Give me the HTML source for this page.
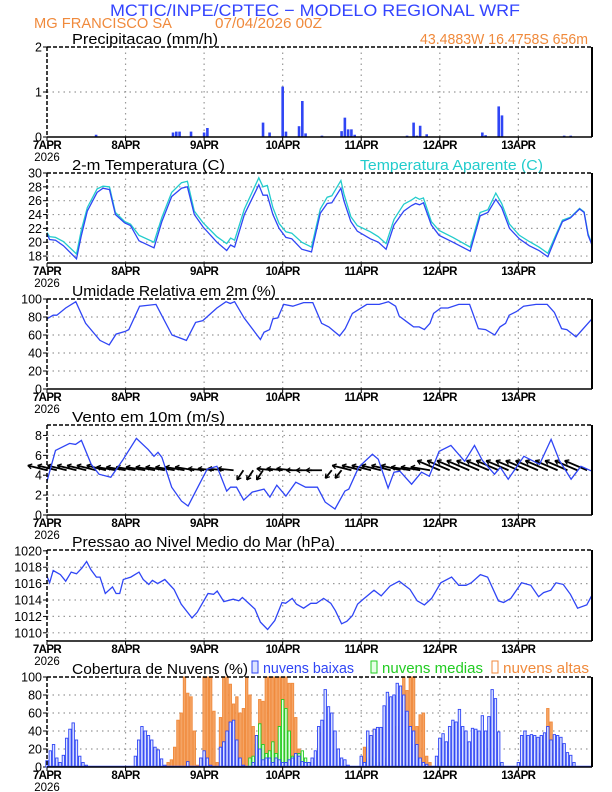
<!DOCTYPE html>
<html><head><meta charset="utf-8"><style>
html,body{margin:0;padding:0;background:#fff;}
svg{display:block;font-family:"Liberation Sans",sans-serif;}
</style></head><body>
<svg id="chart" width="612" height="792" viewBox="0 0 612 792" xmlns="http://www.w3.org/2000/svg">
<text x="110" y="16" font-size="17" fill="#3344ff" textLength="410" lengthAdjust="spacingAndGlyphs">MCTIC/INPE/CPTEC − MODELO REGIONAL WRF</text>
<text x="34" y="28" font-size="15" fill="#f08a3c" textLength="138" lengthAdjust="spacingAndGlyphs">MG FRANCISCO SA</text>
<text x="215" y="28" font-size="15" fill="#f08a3c" textLength="107" lengthAdjust="spacingAndGlyphs">07/04/2026 00Z</text>
<text x="420" y="44" font-size="15" fill="#f08a3c" textLength="168" lengthAdjust="spacingAndGlyphs">43.4883W 16.4758S 656m</text>
<g id="layer"></g>
</svg>
<script>
// ---------- data ----------
const dayLabels=["7APR","8APR","9APR","10APR","11APR","12APR","13APR"];
const precipHours=[15,38.5,39.5,40.5,44,48,49,66,68,72,73,77,78,79,84,90,91,92,93,94,110,112,113,114,116,133,134,138,139,158,160];
const precipValues=[0.05,0.1,0.12,0.12,0.12,0.1,0.2,0.32,0.1,1.12,0.12,0.24,0.8,0.08,0.03,0.13,0.43,0.17,0.17,0.05,0.03,0.32,0.03,0.25,0.06,0.1,0.04,0.68,0.48,0.03,0.03];
const tempHours=[0,0.8,2.6,5,9,10.5,12.3,15.3,17.1,19.1,20.9,23.7,25.5,28.1,32.7,35.1,38.1,41.1,42.9,45,47.7,51.9,54.9,56.1,57.3,60.3,64.7,66,67.3,69,70.9,73,74.8,77.8,80.8,83.5,85.6,87,89.8,90.7,92.8,94.8,98.8,101.2,103.6,106,109,111.4,112.6,113.8,115,117.4,119.8,124,129.3,132.3,134.7,137.1,138.9,141.3,144.3,147.3,150.3,153,155.7,157.5,159.9,162.7,164.1,165.3,166.5];
const tempValues=[21.2,20.4,20.3,19.5,17.6,21,24.5,27.2,27.8,27.6,24,22.8,22.4,20.2,19.2,23,26.6,27.8,28,24,22.2,20,18.8,19.6,19.3,24,28.3,26.8,26.8,24,22,20.7,20.5,19,18.6,24.2,25.6,25.7,27.8,26,23,21.6,20.5,20,19,22.5,24.5,25.3,25.6,25.4,25.7,22.5,21,20,18.7,23.8,24.3,26.2,25,22,20.5,19.5,18.8,17.9,21,23,23.5,24.8,24.3,21,19.6];
const apparentValues=[21.4,20.8,20.7,20.1,18.3,21.8,25,27.7,28.1,28,24.3,23,22.6,21,20,23.6,27.2,28.6,28.8,24.5,22.8,20.8,19.8,20.6,20.3,24.8,29.3,28,28.2,25,22.7,21.5,21.3,20,19.3,24.8,26.5,26.7,28.9,27,23.7,22.4,21.5,20.8,19.8,23.3,25.5,26.1,26.5,26.2,26.4,23,21.7,20.7,19.3,24.3,24.7,27.1,25.6,22.6,21,20.1,19.3,18.4,21.3,23.2,23.6,24.9,24.4,21.2,19.7];
const rhHours=[0,1.9,3,5.7,8.8,11.8,16.2,19,21.1,23.9,25,28.3,33.3,38.2,42.6,45.4,47.6,51.9,54.7,56,57.3,60.2,65.2,66.3,68,69,70.5,72.3,75.1,78.4,81.2,83.9,86.1,89.4,91.1,93.3,97.7,101.5,104.3,106.5,107.6,110.9,112,113.7,115.3,117,118.1,120.3,122.5,125.8,129.1,131.8,134,136.8,138.4,140.1,141.2,143.4,145.6,149.4,152.8,155,157.2,158.8,161.6,166.5];
const rhValues=[78,82,82,90,97,73,54,49,61,64,66,92,94,60,54,74,76,90,97,95,97,79,55,63,66,78,79,94,92,96,96,73,69,59,67,84,94,94,97,92,81,72,69,69,66,73,84,90,90,94,94,67,66,60,69,73,82,86,92,94,94,85,67,66,58,78];
const windHours=[0,2.6,6.9,8.7,10.5,13.5,15.9,19.5,23.1,27.3,30.9,32.7,33.9,35.1,38.1,41.1,43.1,45.3,48.9,51.9,54.9,56.1,57.9,60.1,62.7,66.3,68.1,70.2,73,76,79,82.6,85,88,91,92.2,95.2,99.4,101.2,104.2,106,107.8,111.4,114.4,116.8,119.8,123.4,127.6,130.6,133,136.7,138.5,140.9,145.7,150.5,154,156.5,160.1,163.1,166.5];
const windSpeed=[3.4,6.5,7.2,7.1,7.5,5.1,4.1,3.8,5.5,7.7,6.6,5.9,6.3,5.8,2.8,1.4,0.9,2.3,4.6,4.9,2.4,2.8,2.8,1.5,2.3,2.6,1.8,3,1.9,3.3,2.8,2.8,1.3,0.6,2.4,2.6,4.8,6.1,5.6,2.7,4.3,4.4,3.1,4.3,3.9,6.4,7,5.4,7,5.5,4.1,4.8,3.6,5.9,5.1,7.6,5.5,3.6,4.9,4.4];
const vecHours=[0,3,6,9,12,15,18,21,24,27,30,33,36,39,42,45,48,51,54,57,60,63,66,69,72,75,78,81,84,87,90,93,96,99,102,105,108,111,114,117,120,123,126,129,132,135,138,141,144,147,150,153,156,159,162,165];
const windU=[-6,-6,-6,-6,-6,-6,-6,-6,-6,-6,-6,-6,-6,-6,-6,-6,-5,-5,-5,-5,-2,-2,-2,-5,-5,-5,-5,-5,-5,-2,-2,-6,-6,-6,-6,-6,-6,-6,-6,-6,-7,-7,-7,-7,-7,-7,-7,-7,-7,-7,-7,-7,-7,-7,-7,-7];
const windV=[1.5,1.5,1.5,1.5,1.5,1.5,1.5,1,1,1,1,1,1,1,1,1,0.5,0.5,0.5,0.5,-3,-3,-3,0.5,0.5,0.5,0,0,0,-2.5,-2.5,1.5,1.5,1.5,1.5,1.5,1.5,1,1,1,3,3,3,3,3,3,3,3,3,3,3,3,3,3,3,3];
const presHours=[0,0.8,1.9,4.1,5.7,7.4,9,10.7,12.1,13.4,15.1,16.2,17.8,20,21.1,22.2,23.3,25.6,28.1,29.4,31.1,32.2,33.8,36,38.8,41,44.3,45.9,49.2,50.9,52,54,56.9,58.6,59.7,61.9,63.5,65.2,67.4,69.6,71.8,72.9,74.9,76.2,78.4,80.6,82.3,84.5,86.7,88.1,90,91.6,93.3,94.9,96.6,99.9,102.1,104.8,107.6,110.9,113.1,115.3,117.5,120.3,123.6,125.8,128,129.6,132.4,134.6,137.9,139.5,141.7,145,147.8,150.2,151.7,153.9,155.5,157.7,159.9,162.1,164.9,166.5];
const presValues=[1016.9,1016.1,1017.6,1017.1,1016.3,1017.4,1017.2,1017.9,1018.7,1017.7,1016.8,1016.8,1014.8,1015.6,1014.8,1014.8,1016.5,1016.8,1017.4,1016.5,1015.9,1016.4,1016,1016.5,1015.3,1013.5,1011.8,1012.5,1014.8,1014.7,1015.1,1013.8,1014.1,1013.9,1014.3,1013.5,1012.9,1011.3,1010.4,1011.5,1013.7,1013.6,1014.2,1013.5,1013,1013.6,1013.6,1014.2,1013.6,1012.7,1011.1,1011.4,1012.1,1013.5,1014.1,1015.2,1014.5,1015.7,1016.3,1015.3,1013.9,1013.4,1014.2,1016.1,1016.8,1015.8,1015.8,1016.1,1017.1,1016.8,1013.9,1013.7,1014.2,1016.1,1015.8,1014.4,1014.9,1015.2,1016.1,1015.9,1014.7,1013,1013.4,1014.6];
const cloudLow=[7,18,25,10,5,13,32,42,49,30,12,5,2,0,
0,0,0,0,0,0,0,0,0,0,0,0,0,
12,30,45,40,35,30,22,19,9,2,
0,0,0,0,0,0,
6,0,0,0,10,18,10,2,0,0,
22,28,40,50,52,30,10,2,0,0,
5,35,20,8,10,10,5,10,8,5,
5,8,10,15,12,6,5,5,10,18,
45,52,86,67,60,40,20,10,8,2,
0,0,0,12,5,40,35,42,44,44,
68,83,78,80,93,90,80,62,45,40,
25,10,5,3,0,0,12,32,37,28,
45,52,50,64,45,40,28,43,42,40,
57,40,56,86,76,39,5,0,0,0,
0,5,35,40,35,36,35,33,35,38,
45,30,36,35,33,26,16,13,5,0,
0,0,0,0];
const cloudMid=[0,0,0,0,0,0,0,0,0,0,0,0,0,0,0,0,0,0,0,0,0,0,0,0,0,0,0,0,0,0,0,0,0,0,0,0,0,0,0,0,0,0,0,0,0,0,0,0,0,0,0,0,0,0,0,0,0,0,0,0,0,0,
10,12,25,48,25,15,18,28,15,45,
75,65,40,12,10,15,18,10,5,0,
0,0,0,0,0,0,0,0,0,0,0,0,0,0,0,0,
8,12,10,5,
0,0,0,0,0,0,0,
3,5,
0,0,0,0,0,0,0,0,0,0,0,0,0,0,0,0,0,0,0,0,0,0,0,0,0,0,
8,5,
0,0,0,0,0,0,0,0,0,0,0,0,0,0,0,0,0,0,0,0,0,0,0,0,0,0,0,0];
const cloudHigh=[0,0,0,0,0,0,0,0,0,0,0,0,0,0,0,0,0,0,0,0,0,0,0,0,0,0,0,0,0,0,0,0,0,0,0,0,0,
5,8,22,52,60,100,82,78,40,2,
10,100,100,100,62,5,
55,100,100,92,70,78,60,65,100,80,
45,35,75,73,100,100,100,100,100,100,
100,93,93,55,20,5,0,0,0,5,
38,5,0,0,0,0,0,0,0,0,0,0,0,0,
22,10,5,42,5,5,0,10,20,35,
45,55,100,85,100,100,45,58,60,12,
5,0,0,0,0,0,0,0,5,0,
0,0,0,0,0,0,0,0,0,0,0,0,0,0,0,0,0,0,0,0,0,0,0,0,
15,25,65,50,15,5,
0,0,0,0,0,0,0,0,0,0];

// ---------- layout ----------
const NS="http://www.w3.org/2000/svg";
const layer=document.getElementById('layer');
const X0=47,X1=592,HMAX=166.5;
function X(h){return X0+h*(X1-X0)/HMAX;}
function mk(tag,attrs,parent){const e=document.createElementNS(NS,tag);for(const k in attrs)e.setAttribute(k,attrs[k]);(parent||layer).appendChild(e);return e;}
function scaleY(p){return v=>p.bot-(v-p.min)*(p.bot-p.top)/(p.max-p.min);}
const BLUE="#2f45f5",CYAN="#22cccc",ORANGE="#f08a3c",GREEN="#22cc22";

function panel(p,name,title,titleW,ticks,tickLabels){
  const g=mk('g',{});
  
  
  const Y=scaleY(p);
  for(let d=1;d<7;d++){const l=mk('line',{x1:X(d*24),x2:X(d*24),y1:p.top,y2:p.bot,stroke:'#999','stroke-dasharray':'1.5,4','stroke-width':1.2},g);
    }
  ticks.forEach((t,i)=>{
    const y=Y(t);
    if(y>p.top+1&&y<p.bot-1){const l=mk('line',{x1:X0,x2:X1,y1:y,y2:y,stroke:'#999','stroke-dasharray':'1.5,4','stroke-width':1.2},g);
      }
    mk('line',{x1:X0-4,x2:X0,y1:y,y2:y,stroke:'#000'},g);
    const tx=mk('text',{x:X0-5,y:y+4.5,'text-anchor':'end','font-size':12.5,fill:'#000'},g);
    tx.textContent=tickLabels[i];
    
  });
  dayLabels.forEach((d,i)=>{
    mk('line',{x1:X(i*24),x2:X(i*24),y1:p.bot,y2:p.bot+4,stroke:'#000'},g);
    const tx=mk('text',{x:X(i*24),y:p.bot+12,'text-anchor':'middle','font-size':11.5,'font-weight':'bold','letter-spacing':'-0.6',fill:'#000'},g);
    tx.textContent=d;
    
  });
  const yr=mk('text',{x:X0,y:p.bot+24,'text-anchor':'middle','font-size':11.5,fill:'#000'},g);
  yr.textContent="2026";
  
  const tt=mk('text',{x:72,y:p.top-3,'font-size':15,fill:'#000',textLength:titleW,lengthAdjust:'spacingAndGlyphs'},g);
  tt.textContent=title;
  
  p.g=g;p.Y=Y;
  return p;
}
function frame(p){
  mk('line',{x1:X0,x2:X1,y1:p.top,y2:p.top,stroke:'#000','stroke-width':1.5,'stroke-dasharray':'4,2'},p.g);
  mk('line',{x1:X0,x2:X0,y1:p.top,y2:p.bot,stroke:'#000','stroke-width':1.5,'stroke-dasharray':'4,2'},p.g);
  mk('line',{x1:X1,x2:X1,y1:p.top,y2:p.bot,stroke:'#000','stroke-width':2},p.g);
  mk('line',{x1:X0,x2:X1,y1:p.bot,y2:p.bot,stroke:'#000','stroke-width':1.5},p.g);
}
function line(p,hours,vals,color,name){
  const pts=hours.map((h,i)=>X(h).toFixed(1)+','+p.Y(vals[i]).toFixed(1)).join(' ');
  const l=mk('polyline',{points:pts,fill:'none',stroke:color,'stroke-width':1.3},p.g);
  
  
}

const P1=panel({top:47,bot:137,min:0,max:2},'precipitation-panel','Precipitacao (mm/h)',146,[0,1,2],["0","1","2"]);
precipHours.forEach((h,i)=>{
  const y=P1.Y(precipValues[i]);
  const b=mk('rect',{x:X(h)-1.3,y:y,width:2.6,height:P1.bot-y,fill:BLUE},P1.g);
  
  
});
frame(P1);

const P2=panel({top:173,bot:263,min:17,max:30},'temperature-panel','2-m Temperatura (C)',153,[18,20,22,24,26,28,30],["18","20","22","24","26","28","30"]);
const lt=mk('text',{x:360,y:170,'font-size':15,fill:CYAN,textLength:183,lengthAdjust:'spacingAndGlyphs'},P2.g);
lt.textContent="Temperatura Aparente (C)";

line(P2,tempHours,apparentValues,CYAN,'apparent-temperature-line');
line(P2,tempHours,tempValues,BLUE,'temperature-line');
frame(P2);

const P3=panel({top:299,bot:389,min:0,max:100},'humidity-panel','Umidade Relativa em 2m (%)',204,[0,20,40,60,80,100],["0","20","40","60","80","100"]);
line(P3,rhHours,rhValues,BLUE,'humidity-line');
frame(P3);

const P4=panel({top:425,bot:515,min:0,max:9.05},'wind-panel','Vento em 10m (m/s)',153,[0,2,4,6,8],["0","2","4","6","8"]);
const baseY=P4.Y(4.5);
vecHours.forEach((h,i)=>{
  const x=X(h),dx=windU[i]*3.2,dy=-windV[i]*3.2;
  const g=mk('g',{},P4.g);
  
  
  mk('line',{x1:x,y1:baseY,x2:x+dx,y2:baseY+dy,stroke:'#000','stroke-width':1.8},g);
  const len=Math.hypot(dx,dy)||1,ux=dx/len,uy=dy/len;
  const hx=x+dx,hy=baseY+dy;
  mk('line',{x1:hx,y1:hy,x2:hx-ux*4+uy*2.5,y2:hy-uy*4-ux*2.5,stroke:'#000','stroke-width':1.3},g);
  mk('line',{x1:hx,y1:hy,x2:hx-ux*4-uy*2.5,y2:hy-uy*4+ux*2.5,stroke:'#000','stroke-width':1.3},g);
});
line(P4,windHours,windSpeed,BLUE,'wind-speed-line');
frame(P4);

const P5=panel({top:550,bot:641,min:1009,max:1020.1},'pressure-panel','Pressao ao Nivel Medio do Mar (hPa)',263,[1010,1012,1014,1016,1018,1020],["1010","1012","1014","1016","1018","1020"]);
line(P5,presHours,presValues,BLUE,'pressure-line');
frame(P5);

const P6=panel({top:677,bot:767,min:0,max:100},'cloud-panel','Cobertura de Nuvens (%)',176,[0,20,40,60,80,100],["0","20","40","60","80","100"]);
function bars(arr,fill,stroke,name){
  arr.forEach((v,h)=>{
    if(v<=0)return;
    const y=P6.Y(v);
    const b=mk('rect',{x:X(h)-1.2,y:y,width:2.4,height:P6.bot-y,fill:fill,stroke:stroke,'stroke-width':0.9},P6.g);
    
    
  });
}
bars(cloudHigh,'#f5a566','#f08a3c','high-cloud-bar');
bars(cloudMid,'#e6ffe6',GREEN,'mid-cloud-bar');
bars(cloudLow,'#dde4ff',BLUE,'low-cloud-bar');
mk('line',{x1:X0,x2:X1,y1:P6.bot-0.5,y2:P6.bot-0.5,stroke:BLUE,'stroke-width':1.5},P6.g);
frame(P6);
const legend=[[252,'nuvens baixas',BLUE,'#dde4ff',91],[371,'nuvens medias',GREEN,'#e6ffe6',101],[492,'nuvens altas',ORANGE,'#fff',86]];
legend.forEach(l=>{
  const g=mk('g',{},P6.g);
  
  
  mk('rect',{x:l[0],y:661,width:6,height:12,fill:l[3],stroke:l[2],'stroke-width':1},g);
  const t=mk('text',{x:l[0]+11,y:673,'font-size':15,fill:l[2],textLength:l[4],lengthAdjust:'spacingAndGlyphs'},g);
  t.textContent=l[1];
});
</script>
</body></html>
